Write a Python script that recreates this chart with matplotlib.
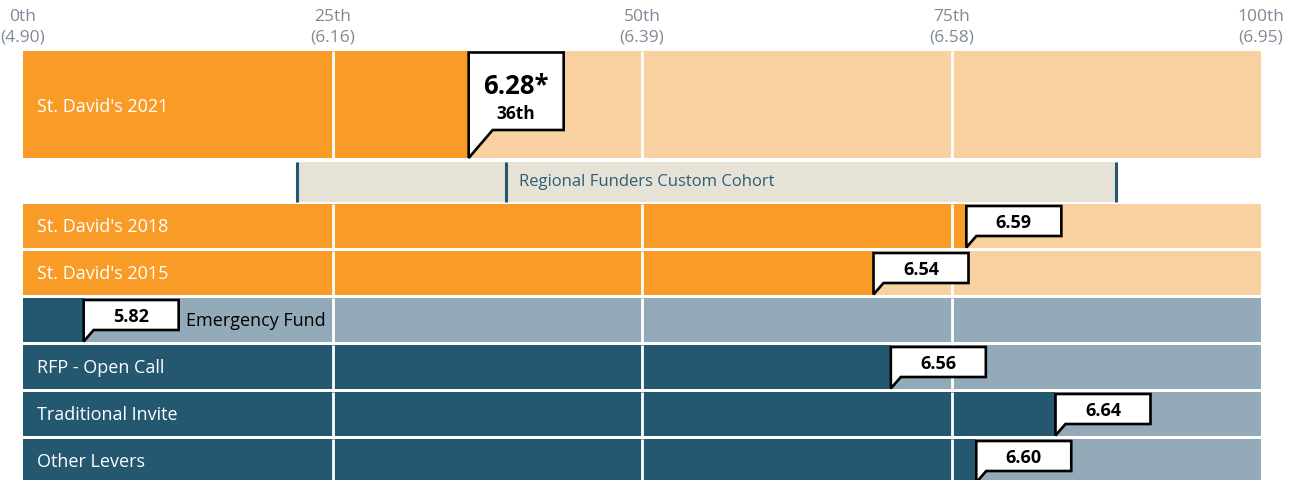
import matplotlib
matplotlib.use("Agg")
import matplotlib.pyplot as plt
from matplotlib.patches import Polygon, Rectangle

plt.rcParams['font.family'] = ['Open Sans', 'DejaVu Sans']

# ---- data ----
tick_pcts = [0, 25, 50, 75, 100]
tick_names = ['0th', '25th', '50th', '75th', '100th']
tick_values = ['4.90', '6.16', '6.39', '6.58', '6.95']

main_label = "St. David's 2021"
main_pct = 36
main_value = '6.28*'
main_rank = '36th'

cohort_label = 'Regional Funders Custom Cohort'
cohort_low, cohort_mid, cohort_high = 22.1, 39.0, 88.3

row_labels = ["St. David's 2018", "St. David's 2015", "Emergency Fund",
              "RFP - Open Call", "Traditional Invite", "Other Levers"]
row_pcts = [76.2, 68.7, 4.9, 70.1, 83.4, 77.0]
row_values = ['6.59', '6.54', '5.82', '6.56', '6.64', '6.60']
row_group = ['sd', 'sd', 'lev', 'lev', 'lev', 'lev']

# ---- styles ----
ORANGE = '#F89C27'
ORANGE_L = '#F9D09F'
TEAL = '#245870'
TEAL_L = '#93AAB8'
BEIGE = '#E6E2D6'
GREY = '#7E8A96'
COLORS = {'sd': (ORANGE, ORANGE_L), 'lev': (TEAL, TEAL_L)}

W, H = 1295, 481
PX_PER = 12.38          # pixels per percentile
X0 = 23                 # pixel of 0th percentile

fig = plt.figure(figsize=(W / 100, H / 100), dpi=100)
ax = fig.add_axes([0, 0, 1, 1])
ax.set_xlim(-X0 / PX_PER, (W - X0) / PX_PER)
ax.set_ylim(H, 0)
ax.axis('off')


def pw(px):
    return px / PX_PER


# header ticks
for p, n, v in zip(tick_pcts, tick_names, tick_values):
    ax.text(p, 17, n, ha='center', va='center', fontsize=12.5, color=GREY)
    ax.text(p, 37, '(' + v + ')', ha='center', va='center', fontsize=12.5, color=GREY)

# main bar
top, bot = 52, 159
ax.barh((top + bot) / 2, 100, height=bot - top, left=0, color=ORANGE_L, zorder=1)
ax.barh((top + bot) / 2, main_pct, height=bot - top, left=0, color=ORANGE, zorder=1)
ax.text(pw(14), (top + bot) / 2 + 1, main_label, color='white', fontsize=13, va='center', ha='left', zorder=6)

# rows
row_tops = [205 + 47 * i for i in range(len(row_labels))]
row_h = 43.5
for lab, p, val, g, t in zip(row_labels, row_pcts, row_values, row_group, row_tops):
    dark, light = COLORS[g]
    ax.barh(t + row_h / 2, 100, height=row_h, left=0, color=light, zorder=1)
    ax.barh(t + row_h / 2, p, height=row_h, left=0, color=dark, zorder=1)

# gridlines
all_rows = [(52, 159)] + [(t, t + row_h) for t in row_tops]
for (a, b) in all_rows:
    ax.vlines([25, 50, 75], a, b, colors='white', lw=2, zorder=2)

# cohort band
ct, cb = 163, 203
ax.add_patch(Rectangle((cohort_low, ct), cohort_high - cohort_low, cb - ct,
                       facecolor=BEIGE, edgecolor='none', zorder=3))
ax.vlines([cohort_low, cohort_mid, cohort_high], ct, cb, colors=TEAL, lw=2.2, zorder=4)
ax.text(cohort_mid + pw(13), (ct + cb) / 2 - 1, cohort_label, color='#2C5E76',
        fontsize=12, va='center', ha='left', zorder=4)


def callout(x, ytop, ybox, ytip, wpx, notch_px):
    pts = [(x, ytop), (x + pw(wpx), ytop), (x + pw(wpx), ybox),
           (x + pw(notch_px), ybox), (x, ytip)]
    ax.add_patch(Polygon(pts, closed=True, facecolor='white', edgecolor='black',
                         lw=1.9, joinstyle='miter', zorder=5))


# main callout
callout(main_pct, top + 1.5, 131, bot, 95, 24)
cx = main_pct + pw(47.5)
ax.text(cx, 86, main_value, ha='center', va='center', fontsize=18.5, fontweight='bold', zorder=6)
ax.text(cx, 114, main_rank, ha='center', va='center', fontsize=12.5, fontweight='bold', zorder=6)

# row callouts and labels
for lab, p, val, g, t in zip(row_labels, row_pcts, row_values, row_group, row_tops):
    dark, light = COLORS[g]
    callout(p, t + 2, t + 32, t + row_h, 95, 10)
    ax.text(p + pw(47.5), t + 18, val, ha='center', va='center', fontsize=13,
            fontweight='bold', zorder=6)
    if p < 15:
        ax.text(p + pw(102), t + 22.5, lab, color='black', fontsize=13, va='center', ha='left',
                zorder=6, bbox=dict(facecolor=light, edgecolor='none', pad=1))
    else:
        ax.text(pw(14), t + 22.5, lab, color='white', fontsize=13, va='center', ha='left', zorder=6)

fig.savefig('out.png', dpi=100)
